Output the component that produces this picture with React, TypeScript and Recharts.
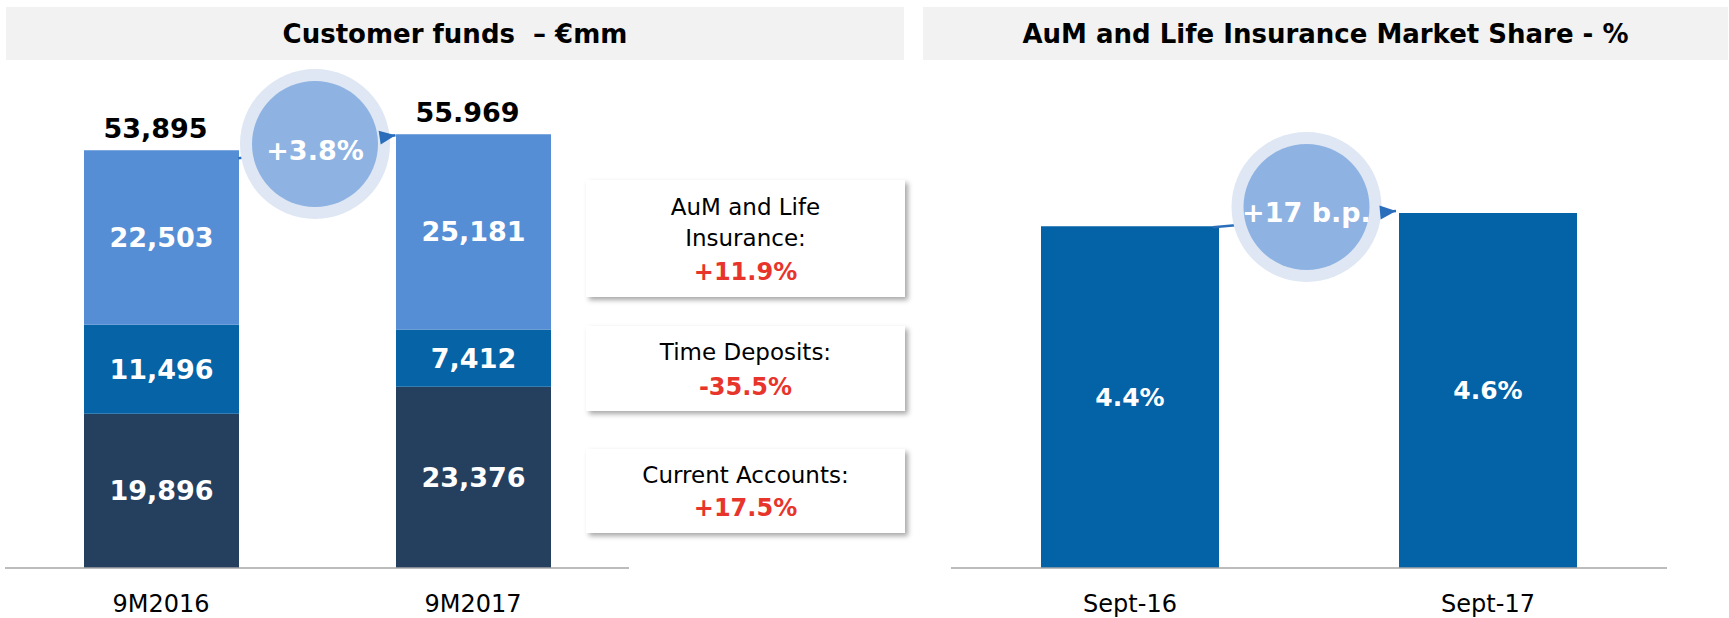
import React from 'react';
import { BarChart, Bar, XAxis, YAxis, LabelList } from 'recharts';

// ---------- data ----------
const categories = ['9M2016', '9M2017'];
const currentAccounts = [19896, 23376];
const timeDeposits = [11496, 7412];
const aumLife = [22503, 25181];
const totalLabels = ['53,895', '55.969'];
const totalValues = [53895, 55969];
const fundsGrowthLabel = '+3.8%';

const shareCategories = ['Sept-16', 'Sept-17'];
const shareValues = [4.4, 4.57];
const shareGrowthLabel = '+17 b.p.';

const boxTitles = [['AuM and Life', 'Insurance:'], ['Time Deposits:'], ['Current Accounts:']];
const boxValues = ['+11.9%', '-35.5%', '+17.5%'];

const titleLeft = 'Customer funds  – €mm';
const titleRight = 'AuM and Life Insurance Market Share - %';

// ---------- styles ----------
const BOLD = '"DejaVu Sans", sans-serif';
const REG = '"DejaVu Sans", sans-serif';
const C_DARK = '#253F5F';
const C_MID = '#0563A6';
const C_LIGHT = '#558ED5';
const C_SHARE = '#0462A6';
const C_ARROW = '#2A6EBB';
const C_RED = '#E8352C';

const fundsData = categories.map((c, i) => ({
  category: c,
  current: currentAccounts[i],
  time: timeDeposits[i],
  aum: aumLife[i],
  totalLabel: totalLabels[i],
}));
const shareData = shareCategories.map((c, i) => ({ category: c, share: shareValues[i] }));

// layout constants
const BASE = 568;
const L_LEFT = 0, L_W = 640, L_ML = 5, L_MR = 11, L_TOP = 103, L_MAX = 60000, L_BAR = 155;
const R_LEFT = 940, R_W = 740, R_ML = 11, R_MR = 13, R_TOP = 102, R_MAX = 6, R_BAR = 178;

const vb = (p: any) => {
  const v = p.viewBox || {};
  return { x: v.x ?? p.x, y: v.y ?? p.y, width: v.width ?? p.width, height: v.height ?? p.height };
};

const centerLabel = (fmt: (v: any) => string, size: number) => (p: any) => {
  const { x, y, width, height } = vb(p);
  return (
    <text x={x + width / 2} y={y + height / 2} textAnchor="middle" dominantBaseline="central"
      fill="#fff" fontFamily={BOLD} fontWeight="bold" fontSize={size}>{fmt(p.value)}</text>
  );
};

const totalLabel = (p: any) => {
  const { x, y, width } = vb(p);
  return (
    <text x={x + width / 2 - 6} y={y - 12} textAnchor="middle" fill="#000"
      fontFamily={BOLD} fontWeight="bold" fontSize={27}>{p.value}</text>
  );
};

const Tick = (p: any) => (
  <text x={p.x} y={p.y + 44} textAnchor="middle" fill="#000" fontFamily={REG} fontSize={24}>
    {p.payload.value}
  </text>
);

const fmtNum = (v: number) => Number(v).toLocaleString('en-US');
const fmtPct = (v: number) => `${Number(v).toFixed(1)}%`;

function Bubble({ cx, cy, label }: { cx: number; cy: number; label: string }) {
  return (
    <g>
      <circle cx={cx} cy={cy} r={75} fill="#DEE7F3" />
      <circle cx={cx} cy={cy} r={63} fill="#8EB3E2" />
    </g>
  );
}

function Arrow({ x1, y1, x2, y2 }: { x1: number; y1: number; x2: number; y2: number }) {
  return <line x1={x1} y1={y1} x2={x2} y2={y2} stroke={C_ARROW} strokeWidth={2.5} />;
}
function ArrowHead({ x1, y1, x2, y2 }: { x1: number; y1: number; x2: number; y2: number }) {
  const a = Math.atan2(y2 - y1, x2 - x1);
  const L = 16, H = 7;
  const bx = x2 - L * Math.cos(a), by = y2 - L * Math.sin(a);
  const pts = [
    [x2, y2],
    [bx + H * Math.sin(a), by - H * Math.cos(a)],
    [bx - H * Math.sin(a), by + H * Math.cos(a)],
  ].map((q) => q.join(',')).join(' ');
  return <polygon points={pts} fill={C_ARROW} />;
}

export default function App() {
  // derived annotation geometry from the same scales/layout
  const lBand = (L_W - L_ML - L_MR) / categories.length;
  const lC = (i: number) => L_LEFT + L_ML + lBand * (i + 0.5);
  const lY = (v: number) => BASE - (v / L_MAX) * (BASE - L_TOP);
  const la = { x1: lC(0) + L_BAR / 2, y1: lY(totalValues[0]) + 8, x2: lC(1) - L_BAR / 2, y2: lY(totalValues[1]) + 1 };

  const rBand = (R_W - R_ML - R_MR) / shareCategories.length;
  const rC = (i: number) => R_LEFT + R_ML + rBand * (i + 0.5);
  const rY = (v: number) => BASE - (v / R_MAX) * (BASE - R_TOP);
  const ra = { x1: rC(0) + R_BAR / 2 - 6, y1: rY(shareValues[0]) + 1, x2: rC(1) - R_BAR / 2 - 3, y2: rY(shareValues[1]) - 2 };

  const lcx = (la.x1 + la.x2) / 2 - 2, lcy = 144;
  const rcx = (ra.x1 + ra.x2) / 2 + 2, rcy = 207;

  const boxTops = [180, 326, 449];
  const boxHeights = [117, 85, 84];
  const valLH = [36, 38, 34];

  return (
    <div style={{ position: 'absolute', left: 0, top: 0, width: 1729, height: 618, background: '#fff', overflow: 'hidden' }}>
      {/* headers */}
      <div style={{ position: 'absolute', left: 6, top: 7, width: 898, height: 53, background: '#F2F2F2',
        display: 'flex', alignItems: 'center', justifyContent: 'center', fontFamily: BOLD, fontWeight: 'bold',
        fontSize: 26, whiteSpace: 'pre', color: '#000' }}>{titleLeft}</div>
      <div style={{ position: 'absolute', left: 923, top: 7, width: 805, height: 53, background: '#F2F2F2',
        display: 'flex', alignItems: 'center', justifyContent: 'center', fontFamily: BOLD, fontWeight: 'bold',
        fontSize: 26, whiteSpace: 'pre', color: '#000' }}>{titleRight}</div>

      {/* left chart */}
      <div style={{ position: 'absolute', left: L_LEFT, top: 0 }}>
        <BarChart width={L_W} height={618} data={fundsData}
          margin={{ top: L_TOP, right: L_MR, left: L_ML, bottom: 0 }}>
          <XAxis dataKey="category" height={618 - BASE} tickLine={false} tickSize={0} tickMargin={0}
            axisLine={{ stroke: '#A6A6A6', strokeWidth: 1.5 }} tick={<Tick />} interval={0} />
          <YAxis hide domain={[0, L_MAX]} />
          <Bar dataKey="current" stackId="a" fill={C_DARK} barSize={L_BAR} isAnimationActive={false}>
            <LabelList dataKey="current" content={centerLabel(fmtNum, 27)} />
          </Bar>
          <Bar dataKey="time" stackId="a" fill={C_MID} barSize={L_BAR} isAnimationActive={false}>
            <LabelList dataKey="time" content={centerLabel(fmtNum, 27)} />
          </Bar>
          <Bar dataKey="aum" stackId="a" fill={C_LIGHT} barSize={L_BAR} isAnimationActive={false}>
            <LabelList dataKey="aum" content={centerLabel(fmtNum, 27)} />
            <LabelList dataKey="totalLabel" content={totalLabel} />
          </Bar>
        </BarChart>
      </div>

      {/* right chart */}
      <div style={{ position: 'absolute', left: R_LEFT, top: 0 }}>
        <BarChart width={R_W} height={618} data={shareData}
          margin={{ top: R_TOP, right: R_MR, left: R_ML, bottom: 0 }}>
          <XAxis dataKey="category" height={618 - BASE} tickLine={false} tickSize={0} tickMargin={0}
            axisLine={{ stroke: '#A6A6A6', strokeWidth: 1.5 }} tick={<Tick />} interval={0} />
          <YAxis hide domain={[0, R_MAX]} />
          <Bar dataKey="share" fill={C_SHARE} barSize={R_BAR} isAnimationActive={false}>
            <LabelList dataKey="share" content={centerLabel(fmtPct, 25)} />
          </Bar>
        </BarChart>
      </div>

      {/* growth boxes */}
      {boxValues.map((v, i) => (
        <div key={i} style={{ position: 'absolute', left: 586, top: boxTops[i], width: 319, height: boxHeights[i],
          background: '#fff', boxShadow: '3px 3px 5px rgba(0,0,0,0.35)', textAlign: 'center',
          paddingTop: i === 0 ? 11.5 : 10.5, boxSizing: 'border-box' }}>
          {boxTitles[i].map((t, j) => (
            <div key={j} style={{ fontFamily: REG, fontSize: 23, lineHeight: '31px', color: '#000' }}>{t}</div>
          ))}
          <div style={{ fontFamily: BOLD, fontWeight: 'bold', fontSize: 24, lineHeight: `${valLH[i]}px`, color: C_RED }}>{v}</div>
        </div>
      ))}

      {/* annotations */}
      <svg width={1729} height={618} style={{ position: 'absolute', left: 0, top: 0, pointerEvents: 'none' }}>
        <Arrow {...la} />
        <Bubble cx={lcx} cy={lcy} label={fundsGrowthLabel} />
        <ArrowHead {...la} />
        <text x={lcx} y={lcy + 6} textAnchor="middle" dominantBaseline="central" fill="#fff"
          fontFamily={BOLD} fontWeight="bold" fontSize={27}>{fundsGrowthLabel}</text>

        <Arrow {...ra} />
        <Bubble cx={rcx} cy={rcy} label={shareGrowthLabel} />
        <ArrowHead {...ra} />
        <text x={rcx} y={rcy + 5} textAnchor="middle" dominantBaseline="central" fill="#fff"
          fontFamily={BOLD} fontWeight="bold" fontSize={27}>{shareGrowthLabel}</text>
      </svg>
    </div>
  );
}
